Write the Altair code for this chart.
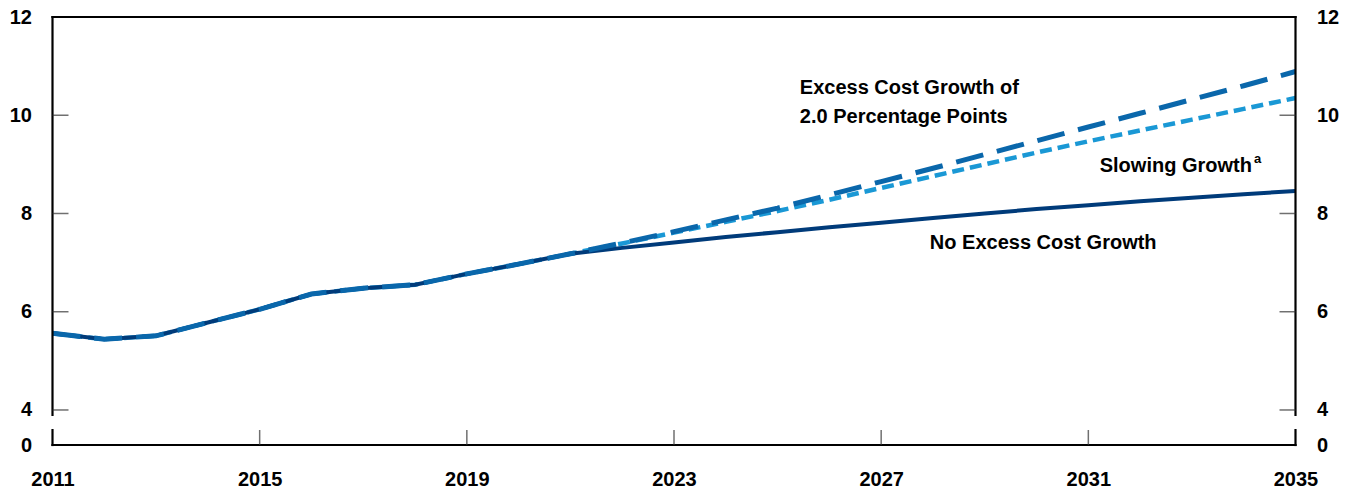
import altair as alt
import pandas as pd

# ---- data ----
years = list(range(2011, 2036))
history = [5.56, 5.44, 5.51, 5.78, 6.05, 6.36, 6.48, 6.55, 6.77, 6.97, 7.18]
no_excess = history + [7.30, 7.41, 7.52, 7.62, 7.72, 7.81, 7.91, 8.00, 8.09, 8.17, 8.25, 8.32, 8.39, 8.46]
excess_2pt = history + [7.40, 7.63, 7.87, 8.11, 8.38, 8.65, 8.92, 9.20, 9.48, 9.76, 10.04, 10.32, 10.60, 10.89]
slowing = history + [7.39, 7.61, 7.83, 8.05, 8.28, 8.52, 8.76, 9.00, 9.24, 9.47, 9.69, 9.91, 10.13, 10.35]

x_tick_values = [2011, 2015, 2019, 2023, 2027, 2031, 2035]
inner_x_ticks = [2015, 2019, 2023, 2027, 2031]
y_tick_values = [4, 6, 8, 10, 12]
inner_y_ticks = [4, 6, 8, 10]

label_texts = ["Excess Cost Growth of", "2.0 Percentage Points", "Slowing Growth", "No Excess Cost Growth"]
label_years = [2025.43, 2025.43, 2031.22, 2027.94]
label_values = [10.55, 9.96, 8.97, 7.40]
sup_text = ["a"]
sup_year = [2034.20]
sup_value = [9.10]

# axis floor stands for 0 (broken axis)
Y_FLOOR = 3.287
BREAK_LOW, BREAK_HIGH = 3.59, 3.90

FONT = "Liberation Sans"
NAVY = "#003b7a"
MID = "#0a67ab"
LIGHT = "#1a98d5"

x_scale = alt.Scale(domain=[2011, 2035], nice=False, zero=False)
y_scale = alt.Scale(domain=[Y_FLOOR, 12], nice=False, zero=False)

x_axis = alt.Axis(values=x_tick_values, format="d", domain=False, ticks=False, grid=False,
                  title=None, labelFont=FONT, labelFontSize=20, labelFontWeight="bold",
                  labelColor="black", labelPadding=24, labelFlush=False)


def X(field="year"):
    return alt.X(f"{field}:Q", scale=x_scale, axis=x_axis)


def Y(field="value", axis=None):
    if axis is None:
        return alt.Y(f"{field}:Q", scale=y_scale, axis=None)
    return alt.Y(f"{field}:Q", scale=y_scale, axis=axis)


def series(vals):
    return pd.DataFrame({"year": years, "value": vals})


axis_common = dict(
    values=[Y_FLOOR] + y_tick_values,
    labelExpr="datum.value < 4 ? '0' : datum.label",
    domain=False, ticks=False, grid=False, title=None,
    labelFont=FONT, labelFontSize=20, labelFontWeight="bold", labelColor="black",
    labelPadding=21, labelBaseline="middle", labelFlush=False,
)

line_slow = alt.Chart(series(slowing)).mark_line(
    color=LIGHT, strokeWidth=4.5, strokeDash=[12, 6], strokeCap="butt"
).encode(x=X(), y=Y())

line_none = alt.Chart(series(no_excess)).mark_line(
    color=NAVY, strokeWidth=4, strokeCap="butt"
).encode(x=X(), y=Y(axis=alt.Axis(orient="left", **axis_common)))

line_excess = alt.Chart(series(excess_2pt)).mark_line(
    color=MID, strokeWidth=5, strokeDash=[28, 14], strokeCap="butt"
).encode(x=X(), y=Y(axis=alt.Axis(orient="right", labelAlign="left", **axis_common)))

# frame with the axis break
frame_df = pd.DataFrame({
    "year": [2011, 2011, 2011, 2011, 2035, 2035],
    "year2": [2035, 2035, 2011, 2011, 2035, 2035],
    "value": [12, Y_FLOOR, BREAK_HIGH, Y_FLOOR, BREAK_HIGH, Y_FLOOR],
    "value2": [12, Y_FLOOR, 12, BREAK_LOW, 12, BREAK_LOW],
})
frame = alt.Chart(frame_df).mark_rule(color="black", strokeWidth=2.2, strokeCap="square").encode(
    x=X(), x2="year2:Q", y=Y(), y2="value2:Q"
)

left_ticks = alt.Chart(pd.DataFrame({"value": inner_y_ticks, "year": 2011})).mark_tick(
    orient="horizontal", size=16, thickness=1.5, xOffset=8, color="#333333"
).encode(x=X(), y=Y())
right_ticks = alt.Chart(pd.DataFrame({"value": inner_y_ticks, "year": 2035})).mark_tick(
    orient="horizontal", size=16, thickness=1.5, xOffset=-8, color="#333333"
).encode(x=X(), y=Y())
bottom_ticks = alt.Chart(pd.DataFrame({"year": inner_x_ticks, "value": Y_FLOOR})).mark_tick(
    orient="vertical", size=15, thickness=1.5, yOffset=-7.5, color="#333333"
).encode(x=X(), y=Y())

labels = alt.Chart(pd.DataFrame({"year": label_years, "value": label_values, "text": label_texts})).mark_text(
    align="left", baseline="middle", font=FONT, fontSize=20, fontWeight="bold", color="black"
).encode(x=X(), y=Y(), text="text:N")

sup = alt.Chart(pd.DataFrame({"year": sup_year, "value": sup_value, "text": sup_text})).mark_text(
    align="left", baseline="middle", font=FONT, fontSize=13, fontWeight="bold", color="black"
).encode(x=X(), y=Y(), text="text:N")

chart = alt.layer(
    line_slow, line_none, line_excess, frame, left_ticks, right_ticks, bottom_ticks, labels, sup
).resolve_scale(y="independent").properties(
    width=1243, height=428,
    autosize=alt.AutoSizeParams(type="none"),
    padding={"left": 44.5, "top": 9, "right": 49, "bottom": 45},
).configure_view(stroke=None)

chart.save("out.html", embed_options={"renderer": "svg", "actions": False})
